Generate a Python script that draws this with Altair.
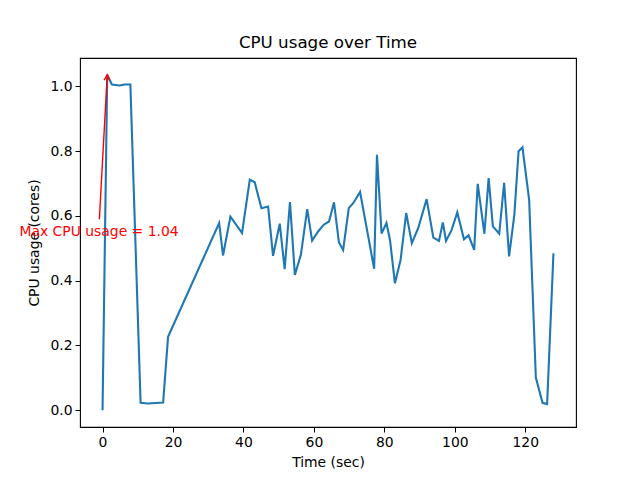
import altair as alt
import pandas as pd

time_sec = [0, 1.33, 2.65, 4.8, 6.25, 7.9, 10.8, 12.9, 17.2, 18.6,
            33.1, 34.2, 36.3, 39.6, 41.8, 43.2, 45.1, 47.0, 48.4, 50.3,
            51.7, 53.2, 54.6, 56.3, 58.1, 59.5, 61.2, 62.8, 64.3, 65.7,
            67.1, 68.3, 69.9, 71.2, 73.1, 77.1, 77.9, 79.2, 80.6, 81.6,
            83.0, 84.6, 86.2, 87.8, 89.6, 92.0, 93.9, 95.5, 96.6, 97.5,
            99.1, 100.7, 102.6, 103.9, 105.5, 106.5, 108.4, 109.6, 110.8, 112.6,
            114.0, 115.4, 116.9, 118.1, 119.2, 121.1, 123.0, 124.9, 126.2, 128.0]
cpu_cores = [0.0, 1.036, 1.006, 1.003, 1.006, 1.006, 0.023, 0.021, 0.024, 0.227,
             0.578, 0.478, 0.598, 0.547, 0.712, 0.704, 0.624, 0.629, 0.477, 0.576,
             0.436, 0.643, 0.418, 0.480, 0.621, 0.524, 0.552, 0.573, 0.583, 0.642,
             0.518, 0.495, 0.624, 0.640, 0.674, 0.437, 0.789, 0.546, 0.578, 0.526,
             0.392, 0.464, 0.609, 0.516, 0.562, 0.652, 0.533, 0.523, 0.580, 0.523,
             0.557, 0.611, 0.528, 0.540, 0.495, 0.699, 0.545, 0.717, 0.568, 0.545,
             0.702, 0.475, 0.604, 0.800, 0.812, 0.650, 0.101, 0.023, 0.019, 0.485]

x_ticks = [0, 20, 40, 60, 80, 100, 120]
y_ticks = [0.0, 0.2, 0.4, 0.6, 0.8, 1.0]

# annotation (text position in data units)
max_i = max(range(len(cpu_cores)), key=lambda i: cpu_cores[i])
max_t, max_v = time_sec[max_i], cpu_cores[max_i]
text_t, text_v = -1.0, 0.551
tail_t, tail_v = -0.9, 0.590
label = f"Max CPU usage = {max_v:.2f}"

df = pd.DataFrame({"t": time_sec, "cpu": cpu_cores})
ann = pd.DataFrame({"t": [tail_t], "v": [tail_v], "t2": [max_t], "v2": [max_v],
                    "tt": [text_t], "tv": [text_v], "label": [label]})

FONT = "DejaVu Sans"
xs = alt.Scale(domain=[-6.4, 134.4], nice=False, zero=False)
ys = alt.Scale(domain=[-0.0518, 1.0878], nice=False, zero=False)

xax = alt.Axis(values=x_ticks, format="d", title="Time (sec)", grid=False,
               domain=False, tickColor="black", tickSize=5, labelPadding=3,
               labelFontSize=13.9, labelFont=FONT, labelColor="black",
               titleFont=FONT, titleFontSize=13.9, titleFontWeight="normal",
               titleColor="black", titlePadding=7)
yax = alt.Axis(values=y_ticks, format=".1f", title="CPU usage (cores)", grid=False,
               domain=False, tickColor="black", tickSize=5, labelPadding=3,
               labelFontSize=13.9, labelFont=FONT, labelColor="black",
               titleFont=FONT, titleFontSize=13.9, titleFontWeight="normal",
               titleColor="black", titlePadding=8)

line = alt.Chart(df).mark_line(color="#1f77b4", strokeWidth=2.1).encode(
    x=alt.X("t:Q", scale=xs, axis=xax),
    y=alt.Y("cpu:Q", scale=ys, axis=yax),
)

arrow = alt.Chart(ann).mark_rule(color="red", strokeWidth=1.4).encode(
    x=alt.X("t:Q", scale=xs), y=alt.Y("v:Q", scale=ys),
    x2="t2:Q", y2="v2:Q",
)
head = alt.Chart(ann).mark_point(
    shape="M -0.5 1 L 0 0 L 0.5 1", filled=False, color="red",
    strokeWidth=1.4, size=125, angle=3, opacity=1,
).encode(x=alt.X("t2:Q", scale=xs), y=alt.Y("v2:Q", scale=ys))

text = alt.Chart(ann).mark_text(color="red", font=FONT, fontSize=13.9,
                                align="center", baseline="middle").encode(
    x=alt.X("tt:Q", scale=xs), y=alt.Y("tv:Q", scale=ys), text="label:N",
)

chart = alt.layer(line, arrow, head, text).properties(
    width=496, height=369,
    title=alt.TitleParams("CPU usage over Time", font=FONT, fontSize=16.7,
                          fontWeight="normal", color="black", offset=6),
    autosize=alt.AutoSizeParams(type="none"),
    padding={"left": 72, "top": 50, "right": 56, "bottom": 45},
).configure_view(stroke="black", strokeWidth=1.1)

chart.save("out.html", embed_options={"renderer": "svg", "actions": False})
